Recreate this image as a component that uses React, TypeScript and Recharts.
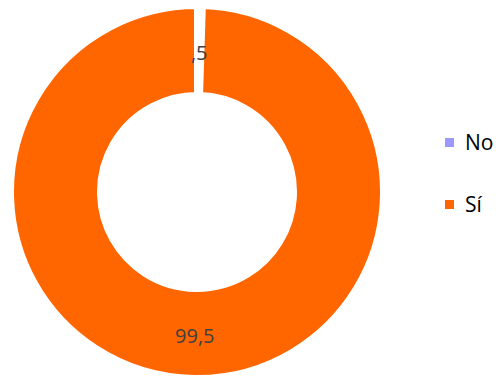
import React from "react";
import { PieChart, Pie, Cell } from "recharts";

const categories = ["No", "Sí"];
const values = [0.5, 99.5];
const colors = ["#9999FF", "#FF6600"];

const chartData = categories.map((name, i) => ({ name, value: values[i] }));

const RADIAN = Math.PI / 180;

// Excel-style number: comma decimal, no leading zero
const formatValue = (v: number): string => {
  let s = String(v).replace(".", ",");
  if (s.startsWith("0,")) s = s.slice(1);
  return s;
};

const renderLabel = (props: any) => {
  const { cx, cy, midAngle, innerRadius, outerRadius, value } = props;
  const r = (innerRadius + outerRadius) / 2;
  const x = cx + r * Math.cos(-midAngle * RADIAN);
  const y = cy + r * Math.sin(-midAngle * RADIAN);
  return (
    <text
      x={x}
      y={y + 2}
      fill="#404040"
      textAnchor="middle"
      dominantBaseline="central"
      fontSize={20}
      fontFamily="'Open Sans', sans-serif"
    >
      {formatValue(value)}
    </text>
  );
};

export default function App() {
  return (
    <div style={{ position: "absolute", left: 0, top: 0, width: 496, height: 379, background: "#fff" }}>
      <PieChart width={496} height={379} margin={{ top: 0, right: 0, bottom: 0, left: 0 }}>
        <Pie
          data={chartData}
          dataKey="value"
          nameKey="name"
          cx={197}
          cy={192}
          innerRadius={97}
          outerRadius={186}
          startAngle={90}
          endAngle={-270}
          stroke="#fff"
          strokeWidth={6}
          label={renderLabel}
          labelLine={false}
          isAnimationActive={false}
        >
          {chartData.map((entry, index) => (
            <Cell key={`cell-${index}`} fill={colors[index]} />
          ))}
        </Pie>
      </PieChart>
      <div
        style={{
          position: "absolute",
          left: 445,
          top: 111,
          fontFamily: "'Open Sans', sans-serif",
        }}
      >
        {categories.map((name, i) => (
          <div key={`legend-${i}`} style={{ display: "flex", alignItems: "center", height: 62 }}>
            <span
              style={{
                width: 9,
                height: 9,
                background: colors[i],
                display: "inline-block",
                marginRight: 11,
              }}
            />
            <span style={{ fontSize: 21, color: "#000" }}>{name}</span>
          </div>
        ))}
      </div>
    </div>
  );
}
